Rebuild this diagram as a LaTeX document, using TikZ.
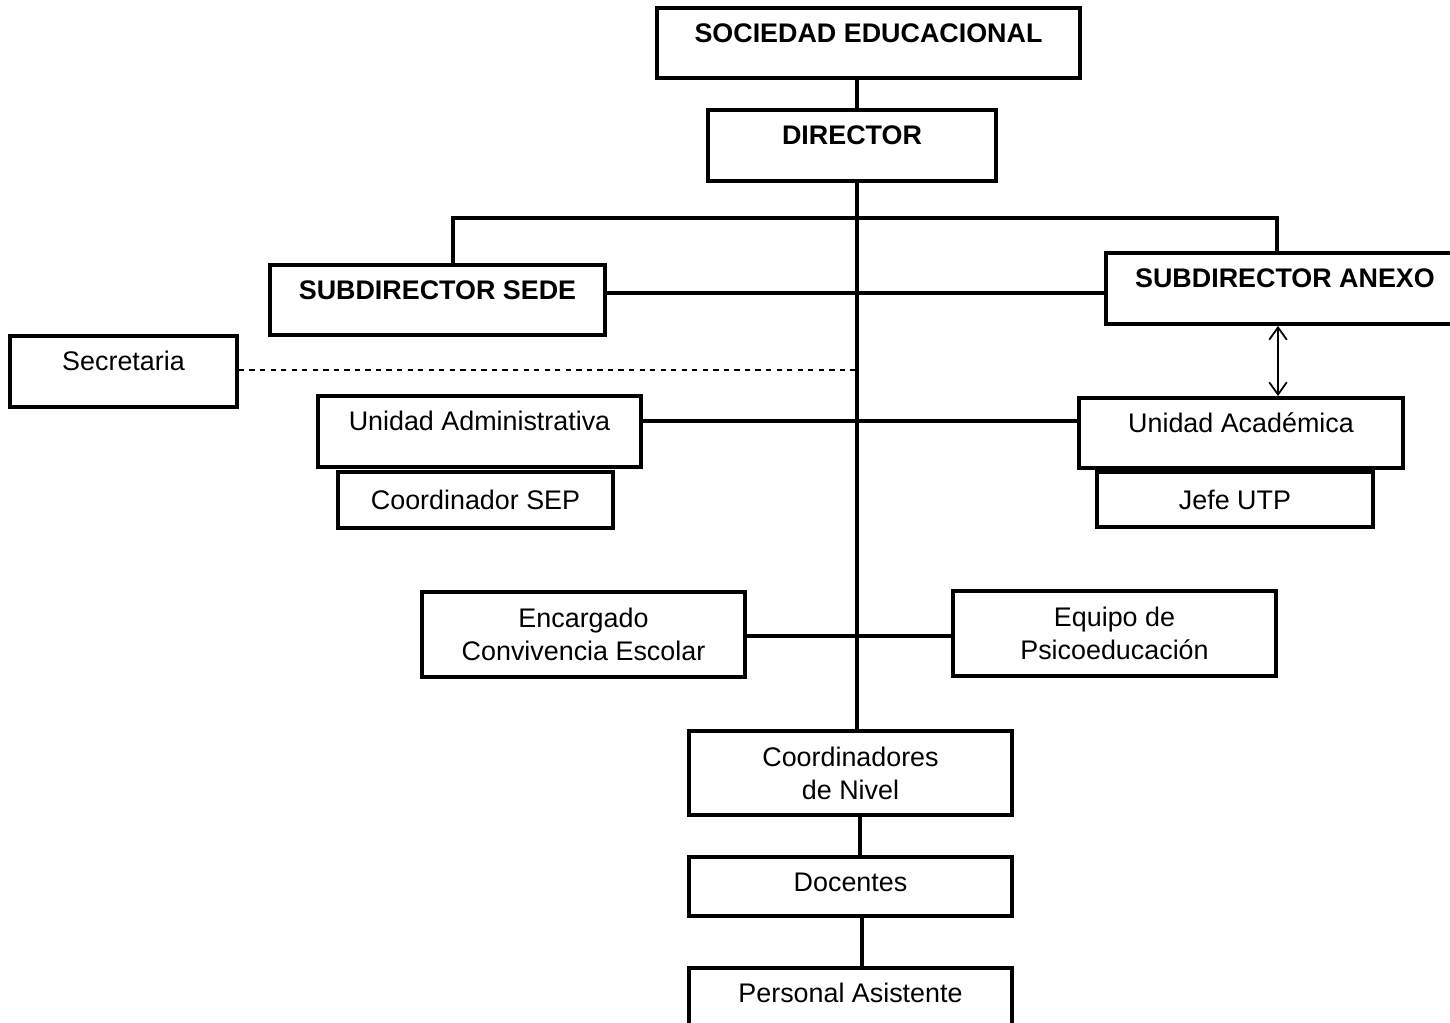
\documentclass[tikz,border=0pt]{standalone}
\usepackage{fontspec}
\setmainfont{Liberation Sans}
\usepackage{tikz}
\usetikzlibrary{arrows.meta}
\tikzset{every node/.style={font=\fontsize{15.3}{18.8}\selectfont},
  box/.style={draw, line width=2.2pt, align=center, inner sep=0pt},
  topbox/.style={box, text height=11pt, text depth=12pt},
  link/.style={line width=2.2pt}}

\begin{document}
\begin{tikzpicture}[x=0.02cm, y=-0.02cm]
      \useasboundingbox (0,0) rectangle (1450,1023);
      \clip (0,0) rectangle (1450,1023);
      % top levels
      \node[topbox, minimum width=8.46cm, minimum height=1.4cm] (soc) at (868.5,43) {\bfseries SOCIEDAD EDUCACIONAL};
      \node[topbox, minimum width=5.76cm, minimum height=1.42cm] (dir) at (852,145.5) {\bfseries DIRECTOR};
      \node[topbox, minimum width=6.7cm, minimum height=1.4cm] (sede) at (437.5,300) {\bfseries SUBDIRECTOR SEDE};
      \node[topbox, minimum width=7.16cm, minimum height=1.42cm] (anexo) at (1285,288.5) {\bfseries SUBDIRECTOR ANEXO};
      \node[topbox, minimum width=4.54cm, minimum height=1.42cm] (sec) at (123.5,371.5) {Secretaria};
      % unidades
      \node[topbox, minimum width=6.46cm, minimum height=1.42cm] (uadm) at (479.5,431.5) {Unidad Administrativa};
      \node[topbox, minimum width=6.48cm, minimum height=1.4cm] (uacad) at (1241,433) {Unidad Académica};
      \node[box, minimum width=5.5cm, minimum height=1.12cm] (csep) at (475.5,500) {Coordinador SEP};
      \node[box, minimum width=5.52cm, minimum height=1.1cm] (jefe) at (1235,499.5) {Jefe UTP};
      \node[box, minimum width=6.46cm, minimum height=1.7cm] (enc) at (583.5,634.5) {Encargado\\Convivencia Escolar};
      \node[box, minimum width=6.46cm, minimum height=1.7cm] (equ) at (1114.5,633.5) {Equipo de\\Psicoeducación};
      % base
      \node[box, minimum width=6.46cm, minimum height=1.68cm] (cniv) at (850.5,773) {Coordinadores\\de Nivel};
      \node[box, text height=11pt, text depth=5pt, minimum width=6.46cm, minimum height=1.18cm] (doc) at (850.5,886.5) {Docentes};
      \node[topbox, minimum width=6.46cm, minimum height=1.42cm] (pers) at (850.5,1003.5) {Personal Asistente};

      \coordinate (axis) at (857,218);
      \coordinate (bl) at (453,218);
      \coordinate (br) at (1277,218);
      \draw[link] (soc.south -| axis) -- (dir.north -| axis);
      \draw[link] (dir.south -| axis) -- (cniv.north -| axis);
      \draw[link] (sede.north -| bl) -- (bl) -- (br) -- (anexo.north -| br);
      \draw[link] (sede.east |- 0,293) -- (anexo.west |- 0,293);
      \draw[line width=1.1pt, dashed] (sec.east |- 0,370) -- (axis |- 0,370);
      \draw[link] (uadm.east |- 0,421) -- (uacad.west |- 0,421);
      \draw[{Straight Barb[length=7pt,width=10pt]}-{Straight Barb[length=7pt,width=10pt]}, line width=1pt]
        (anexo.south -| 1278,0) -- (uacad.north -| 1278,0);
      \draw[link] (enc.east |- 0,636) -- (equ.west |- 0,636);
      \draw[link] (cniv.south -| 860,0) -- (doc.north -| 860,0);
      \draw[link] (doc.south -| 862,0) -- (pers.north -| 862,0);
    \end{tikzpicture}
\end{document}
